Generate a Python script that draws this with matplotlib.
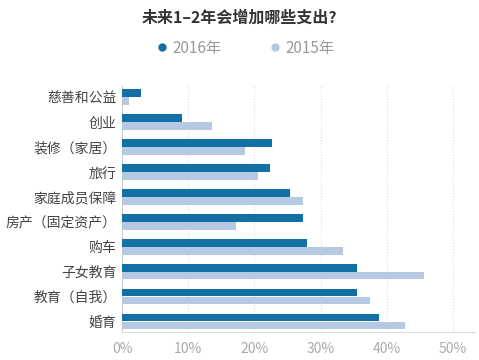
import matplotlib.pyplot as plt
from matplotlib.lines import Line2D
import numpy as np

plt.rcParams['font.family'] = ['Noto Sans CJK SC', 'DejaVu Sans']

# data (percent)
categories = ['慈善和公益', '创业', '装修（家居）', '旅行', '家庭成员保障',
              '房产（固定资产）', '购车', '子女教育', '教育（自我）', '婚育']
y2016 = [2.9, 9.1, 22.6, 22.3, 25.3, 27.4, 28.0, 35.5, 35.5, 38.8]
y2015 = [1.1, 13.6, 18.6, 20.6, 27.3, 17.2, 33.4, 45.6, 37.4, 42.7]
xticks = [0, 10, 20, 30, 40, 50]

dark = '#1270a5'
light = '#b5c9e3'

fig = plt.figure(figsize=(4.79, 3.6), dpi=100)
ax = fig.add_axes([0.2547, 0.078, 0.737, 0.683])

pos = np.arange(len(categories))
h = 0.31
ax.barh(pos - 0.16, y2016, height=h, color=dark, zorder=3)
ax.barh(pos + 0.16, y2015, height=h, color=light, zorder=3)

ax.set_ylim(9.42, -0.45)
ax.set_xlim(0, 53.3)
ax.set_yticks(pos)
ax.set_yticklabels(categories, fontsize=10, color='#444444')
ax.set_xticks(xticks)
ax.set_xticklabels([f'{t}%' for t in xticks], fontsize=10, color='#aaaaaa')
ax.tick_params(axis='both', length=0, pad=4)
ax.tick_params(axis='x', pad=7)

ax.grid(axis='x', linestyle=':', color='#dddddd', linewidth=0.8, zorder=0)
for s in ['top', 'right']:
    ax.spines[s].set_visible(False)
ax.spines['left'].set_color('#cccccc')
ax.spines['bottom'].set_color('#dddddd')

fig.text(0.499, 0.952, '未来1–2年会增加哪些支出?', ha='center', va='center',
         fontsize=11.5, fontweight='bold', color='#333333')

handles = [Line2D([], [], marker='o', linestyle='none', color=dark, markersize=5),
           Line2D([], [], marker='o', linestyle='none', color=light, markersize=5)]
fig.legend(handles, ['2016年', '2015年'], loc='center', bbox_to_anchor=(0.51, 0.866),
           ncol=2, frameon=False, fontsize=11, labelcolor='#999999',
           handletextpad=0.2, columnspacing=3.0, handlelength=1.0)

fig.savefig('out.png', dpi=100)
